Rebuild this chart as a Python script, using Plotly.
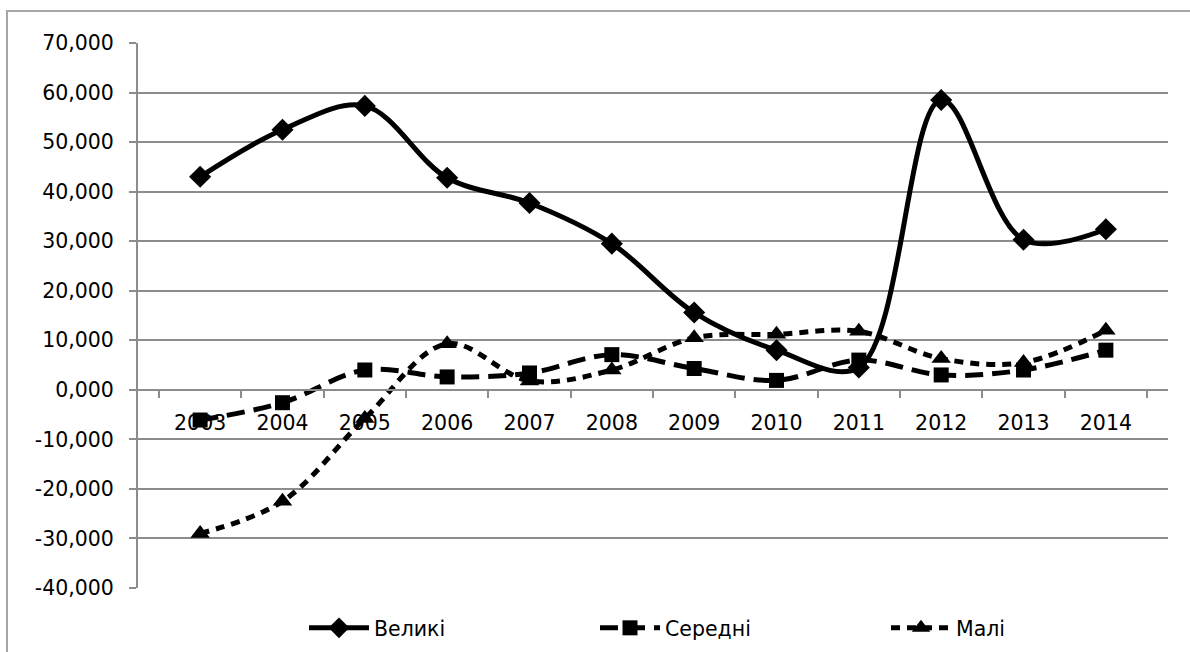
import plotly.graph_objects as go

years = ["2003", "2004", "2005", "2006", "2007", "2008", "2009", "2010", "2011", "2012", "2013", "2014"]
velyki = [43.0, 52.5, 57.3, 42.8, 37.7, 29.5, 15.6, 8.0, 4.5, 58.5, 30.3, 32.4]
seredni = [-6.1, -2.6, 4.0, 2.6, 3.4, 7.1, 4.3, 1.9, 6.0, 3.0, 4.0, 8.0]
mali = [-29.0, -22.5, -5.8, 9.3, 1.8, 4.0, 10.5, 11.2, 11.8, 6.3, 5.5, 12.0]
y_ticks = [-40, -30, -20, -10, 0, 10, 20, 30, 40, 50, 60, 70]
y_tick_labels = [f"{v:.3f}".replace(".", ",") for v in y_ticks]

FONT = "DejaVu Sans"
GRID = "#8c8c8c"

fig = go.Figure()
fig.add_trace(go.Scatter(
    x=years, y=velyki, name="Великі", mode="lines+markers",
    line=dict(color="black", width=5, shape="spline", smoothing=1),
    marker=dict(symbol="diamond", size=17, color="black"),
))
fig.add_trace(go.Scatter(
    x=years, y=seredni, name="Середні", mode="lines+markers",
    line=dict(color="black", width=5, shape="spline", smoothing=1, dash="18px,9px"),
    marker=dict(symbol="square", size=15, color="black"),
))
fig.add_trace(go.Scatter(
    x=years, y=mali, name="Малі", mode="lines+markers",
    line=dict(color="black", width=5, shape="spline", smoothing=1, dash="9px,7px"),
    marker=dict(symbol="triangle-up", size=17, color="black"),
))

y_min, y_max = -40, 70
zero_pos = (0 - y_min) / (y_max - y_min)

L, R, T, B = 138, 1168, 43, 588
W, H = 1190, 652
pw, ph = R - L, B - T

fig.update_layout(
    width=W, height=H,
    margin=dict(l=L, r=W - R, t=T, b=H - B, autoexpand=False),
    paper_bgcolor="white", plot_bgcolor="white",
    font=dict(family=FONT, size=20.5, color="black"),
    showlegend=True,
    legend=dict(
        orientation="h",
        x=(304 - L) / pw, y=(B - 628) / ph, xanchor="left", yanchor="middle",
        font=dict(family=FONT, size=20.5, color="black"),
        itemwidth=60, entrywidth=216, traceorder="normal",
        bgcolor="rgba(0,0,0,0)",
    ),
    xaxis=dict(
        type="category", anchor="free", position=zero_pos, automargin=False,
        showline=True, linecolor=GRID, linewidth=2,
        ticks="outside", ticklen=7, tickcolor=GRID, tickwidth=2,
        tickson="boundaries", showgrid=False, zeroline=False,
        ticklabelstandoff=15,
        tickfont=dict(family=FONT, size=20.5, color="black"),
    ),
    yaxis=dict(
        range=[y_min, y_max], tickvals=y_ticks, ticktext=y_tick_labels, automargin=False,
        showline=True, linecolor=GRID, linewidth=2,
        ticks="outside", ticklen=7, tickcolor=GRID, tickwidth=2,
        showgrid=True, gridcolor=GRID, gridwidth=2, zeroline=False,
        ticklabelstandoff=11,
        tickfont=dict(family=FONT, size=20.5, color="black"),
    ),
    shapes=[dict(
        type="rect", xref="paper", yref="paper",
        x0=(7 - L) / pw, x1=(1200 - L) / pw,
        y0=(B - 670) / ph, y1=(B - 11) / ph,
        line=dict(color="#a6a6a6", width=2), fillcolor="rgba(0,0,0,0)", layer="below",
    )],
)

fig.write_html(
    "out.html",
    config={"displayModeBar": False},
    post_script="document.body.style.margin='0';document.body.style.overflow='hidden';",
)
